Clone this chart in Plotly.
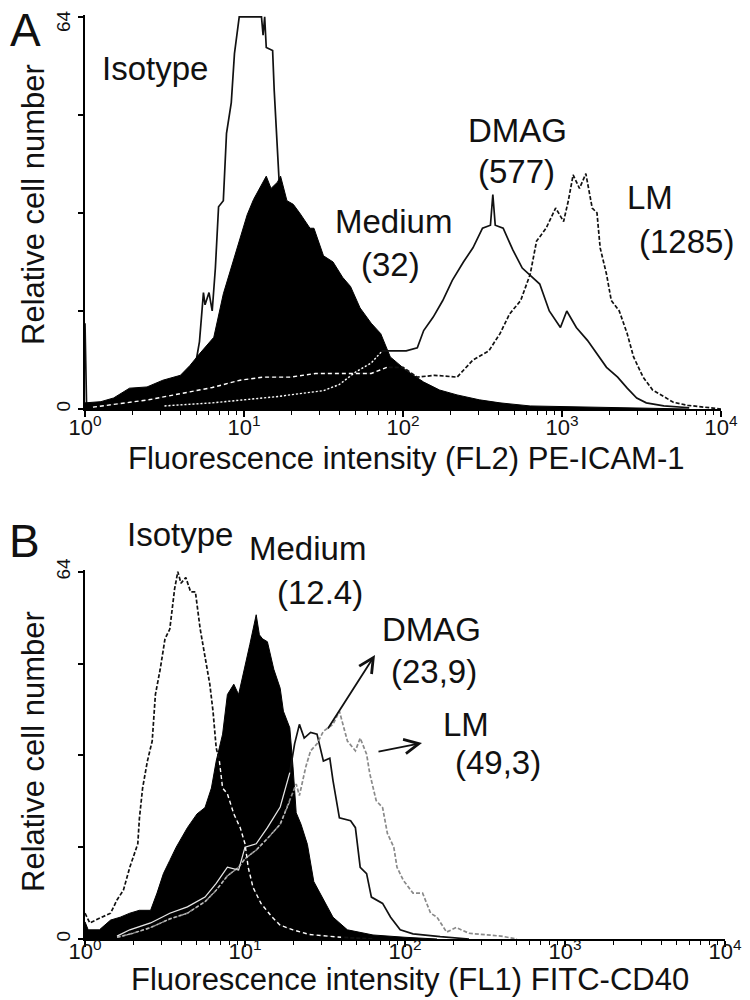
import numpy as np
import plotly.graph_objects as go

# ---------------- Panel A : PE-ICAM-1 (FL2) ----------------
# positions are log10(fluorescence intensity); values are relative cell number
A_ISO_LOGX = [0.00, 0.01, 0.05, 0.20, 0.40, 0.55, 0.62, 0.66, 0.70, 0.72, 0.745, 0.755, 0.78, 0.80,
              0.82, 0.84, 0.87, 0.89, 0.92, 0.94, 0.97, 1.05, 1.11, 1.12, 1.13, 1.14, 1.18, 1.19,
              1.21, 1.22, 1.26, 1.30, 1.40, 1.50, 1.60, 1.80, 2.00]
A_ISO_Y = [14, 0.5, 0.3, 0.3, 0.5, 1, 2, 4, 8, 11, 19, 17, 19, 16,
           23, 33, 34, 45, 50, 58, 64, 64, 64, 61, 64, 59, 58.5, 52,
           42, 37.6, 30, 24, 13, 7, 3, 1, 0]

A_MED_LOGX = [0.00, 0.10, 0.18, 0.28, 0.39, 0.49, 0.60, 0.66, 0.72, 0.81, 0.87, 0.93, 0.975, 1.02,
              1.06, 1.12, 1.14, 1.17, 1.21, 1.23, 1.27, 1.31, 1.35, 1.415, 1.44, 1.50, 1.56, 1.62,
              1.67, 1.73, 1.77, 1.80, 1.86, 1.92, 2.02, 2.13, 2.23, 2.34, 2.48, 2.61, 2.80, 3.20,
              3.60, 3.80]
A_MED_Y = [1.0, 1.2, 1.8, 3.4, 3.6, 4.7, 5.5, 7.1, 9, 11.7, 18.8, 24, 28, 31.7,
           34.2, 37, 38, 36, 37, 38, 34, 33.4, 32, 29.5, 29.5, 25, 24, 21.5,
           20, 16.5, 15, 14, 12.3, 8.5, 6.3, 4.4, 3.1, 2.3, 1.5, 1.0, 0.5, 0.3,
           0.2, 0]

A_DMAG_LOGX = [0.50, 0.80, 1.20, 1.50, 1.60, 1.70, 1.80, 1.87, 2.02, 2.09, 2.13, 2.19, 2.25, 2.31,
               2.38, 2.44, 2.50, 2.55, 2.565, 2.58, 2.63, 2.69, 2.75, 2.82, 2.86, 2.92, 2.99, 3.03,
               3.09, 3.16, 3.22, 3.28, 3.35, 3.41, 3.47, 3.53, 3.64, 3.80]
A_DMAG_Y = [0.5, 1, 2, 3, 4, 6, 7.5, 9.5, 9.5, 10, 12.8, 15, 17.7, 21,
            24, 26.3, 29.5, 30, 35, 30, 29.5, 26, 23, 21.4, 20.4, 16, 13.3, 16,
            13.3, 11.2, 9, 6.8, 5.2, 3.4, 1.8, 1, 0.5, 0.2]

A_LM_LOGX = [0.05, 0.40, 0.60, 0.80, 0.975, 1.12, 1.29, 1.45, 1.60, 1.80, 1.90, 2.00, 2.09, 2.20,
             2.34, 2.44, 2.54, 2.61, 2.67, 2.74, 2.80, 2.84, 2.90, 2.96, 3.01, 3.04, 3.07, 3.11,
             3.15, 3.19, 3.22, 3.24, 3.28, 3.31, 3.36, 3.41, 3.45, 3.51, 3.57, 3.64, 3.70, 3.79,
             3.90, 4.00]
A_LM_Y = [0.3, 1.5, 2.5, 3.5, 4.7, 5.2, 5.2, 5.8, 5.8, 5.8, 6.8, 6.8, 5.2, 5.5,
          5.2, 8, 9.5, 12.3, 15.5, 17.7, 22, 27.4, 29.5, 32.8, 30.6, 34, 38.2, 36,
          38.4, 32.8, 32, 26.3, 22, 17.7, 16, 12.3, 8.5, 5.2, 3.1, 2, 1.1, 0.6,
          0.3, 0]

# ---------------- Panel B : FITC-CD40 (FL1) ----------------
B_ISO_LOGX = [0.00, 0.03, 0.09, 0.16, 0.20, 0.24, 0.28, 0.33, 0.34, 0.36, 0.39, 0.42, 0.44, 0.47,
              0.50, 0.53, 0.56, 0.58, 0.60, 0.63, 0.66, 0.69, 0.72, 0.75, 0.78, 0.80, 0.82, 0.84,
              0.86, 0.89, 0.93, 0.97, 1.00, 1.02, 1.05, 1.10, 1.17, 1.22, 1.30, 1.40, 1.60, 1.80]
B_ISO_Y = [4.5, 2.8, 3.6, 4.5, 6.8, 8.5, 12.5, 16.6, 21, 26.3, 31, 34.5, 42.6, 47,
           52.3, 54, 61, 64, 62, 63, 60.5, 60.5, 54, 49.5, 44.4, 39.7, 33.3, 31,
           26.3, 25.3, 21.8, 19.4, 16.6, 12.5, 9, 6.2, 3.8, 2.4, 1.6, 0.8, 0.3, 0]

B_MED_LOGX = [0.00, 0.02, 0.09, 0.16, 0.22, 0.28, 0.34, 0.41, 0.45, 0.49, 0.53, 0.57, 0.64, 0.70,
              0.75, 0.79, 0.82, 0.86, 0.89, 0.93, 0.96, 0.99, 1.03, 1.07, 1.09, 1.11, 1.14, 1.18,
              1.22, 1.24, 1.28, 1.30, 1.32, 1.35, 1.39, 1.43, 1.49, 1.55, 1.64, 1.80, 2.00, 2.20]
B_MED_Y = [3, 1.6, 1.6, 3.3, 3.8, 4.5, 5, 5, 8, 11.4, 13.7, 16, 19.4, 21.8,
           22.9, 26.3, 31, 35.7, 42.6, 44.4, 42.6, 46.6, 51.3, 56.5, 53, 52.3, 51.8, 47,
           43.7, 39.7, 36.8, 30, 22, 20, 16.5, 10, 6.8, 3.8, 1.6, 0.7, 0.3, 0]

B_DMAG_LOGX = [0.20, 0.28, 0.41, 0.53, 0.64, 0.75, 0.82, 0.89, 0.96, 1.00, 1.07, 1.14, 1.22, 1.28,
               1.31, 1.34, 1.37, 1.41, 1.45, 1.49, 1.53, 1.55, 1.59, 1.66, 1.69, 1.72, 1.76, 1.79,
               1.86, 1.91, 1.97, 2.05, 2.22, 2.40]
B_DMAG_Y = [0.5, 1.6, 2.8, 4.5, 5.6, 7.3, 9.7, 12.5, 12, 16, 16.6, 19.4, 23, 29,
            34, 37.4, 35, 36, 35.7, 31, 31.5, 27.6, 21.1, 20.6, 19.4, 12.5, 11.4, 7.3,
            6.2, 3.8, 1.6, 0.9, 0.4, 0]

B_LM_LOGX = [0.20, 0.30, 0.41, 0.53, 0.64, 0.75, 0.82, 0.89, 0.96, 1.00, 1.07, 1.14, 1.22, 1.28,
             1.32, 1.34, 1.38, 1.41, 1.45, 1.49, 1.55, 1.59, 1.64, 1.69, 1.72, 1.76, 1.78, 1.82,
             1.86, 1.89, 1.93, 1.95, 1.99, 2.05, 2.11, 2.16, 2.20, 2.26, 2.32, 2.40, 2.50, 2.60, 2.70]
B_LM_Y = [0.3, 1, 2, 3.5, 4.5, 6.5, 8.5, 11, 12.5, 14, 15.5, 17.5, 20, 24,
          27, 25, 30, 32.8, 34, 36.2, 37.4, 39.7, 34.5, 32.8, 35, 32.2, 28.8, 24.1,
          22.9, 18.4, 16, 12.5, 10.2, 8, 8, 4.5, 3.8, 1.2, 2, 1, 0.8, 0.5, 0]

TICK_VALS = [1, 10, 100, 1000, 10000]
TICK_TEXT = ["10<sup>0</sup>", "10<sup>1</sup>", "10<sup>2</sup>", "10<sup>3</sup>", "10<sup>4</sup>"]
MINOR_VALS = [m * d for d in (1, 10, 100, 1000) for m in range(2, 10)]
Y_TICKS = [0, 16, 32, 48, 64]
Y_TEXT_A = ["0", " ", " ", " ", " "]      # the top "64" of panel A is placed as a label below
Y_TEXT_B = ["0", " ", " ", " ", "64"]

FONT = "Liberation Sans, Arial, sans-serif"
INK = "#111111"


def lin(logx):
    return [10 ** v for v in logx]


def inside(logx, y, fill_logx, fill_y, margin=0.8):
    f = np.interp(logx, fill_logx, fill_y)
    return [v if v < fv - margin else None for v, fv in zip(y, f)]


fig = go.Figure()


def line(logx, y, color, dash, width, xa, ya, fill=None, fillcolor=None):
    fig.add_trace(go.Scatter(
        x=lin(logx), y=y, mode="lines", xaxis=xa, yaxis=ya,
        line=dict(color=color, dash=dash, width=width),
        fill=fill, fillcolor=fillcolor, hoverinfo="skip", showlegend=False,
        connectgaps=False))


# Panel A
line(A_ISO_LOGX, A_ISO_Y, INK, "solid", 1.7, "x", "y")
line(A_MED_LOGX, A_MED_Y, "black", "solid", 1, "x", "y", fill="tozeroy", fillcolor="black")
line(A_DMAG_LOGX, A_DMAG_Y, INK, "solid", 1.7, "x", "y")
line(A_LM_LOGX, A_LM_Y, INK, "4px,2px", 1.7, "x", "y")
line(A_DMAG_LOGX, inside(A_DMAG_LOGX, A_DMAG_Y, A_MED_LOGX, A_MED_Y), "white", "2px,2px", 1.4, "x", "y")
line(A_LM_LOGX, inside(A_LM_LOGX, A_LM_Y, A_MED_LOGX, A_MED_Y), "white", "4px,3px", 1.4, "x", "y")

# Panel B
line(B_MED_LOGX, B_MED_Y, "black", "solid", 1, "x2", "y2", fill="tozeroy", fillcolor="black")
line(B_ISO_LOGX, B_ISO_Y, INK, "4px,2px", 1.7, "x2", "y2")
line(B_DMAG_LOGX, B_DMAG_Y, INK, "solid", 1.7, "x2", "y2")
line(B_LM_LOGX, B_LM_Y, "#8a8a8a", "4px,2px", 1.7, "x2", "y2")
line(B_ISO_LOGX, inside(B_ISO_LOGX, B_ISO_Y, B_MED_LOGX, B_MED_Y), "white", "4px,3px", 1.4, "x2", "y2")
line(B_DMAG_LOGX, inside(B_DMAG_LOGX, B_DMAG_Y, B_MED_LOGX, B_MED_Y), "#e8e8e8", "solid", 1.2, "x2", "y2")
line(B_LM_LOGX, inside(B_LM_LOGX, B_LM_Y, B_MED_LOGX, B_MED_Y), "#bdbdbd", "3px,2px", 1.2, "x2", "y2")

# the page body adds an 8 px margin, so the figure is drawn 8 px in from the window corner
OFF = 8
W, H = 750 - OFF, 1000 - OFF


def px(xp):
    return (xp - OFF) / W


def py(yp):
    return 1 - (yp - OFF) / H


def xaxis(domain, anchor, standoff):
    return dict(
        type="log", range=[0, 4], domain=domain, anchor=anchor, automargin=False,
        showline=True, linecolor="black", linewidth=2, mirror=False,
        showgrid=False, zeroline=False,
        ticks="outside", ticklen=6, tickwidth=1.5, tickcolor="black",
        tickmode="array", tickvals=TICK_VALS, ticktext=TICK_TEXT,
        tickfont=dict(family=FONT, size=22, color=INK), ticklabelstandoff=standoff,
        ticklabeloverflow="allow",
        minor=dict(tickmode="array", tickvals=MINOR_VALS, ticks="outside",
                   ticklen=4, tickwidth=1, tickcolor="black", showgrid=False),
    )


def yaxis(domain, anchor, ticktext):
    return dict(
        range=[0, 64.3], domain=domain, anchor=anchor, automargin=False,
        showline=True, linecolor="black", linewidth=2,
        showgrid=False, zeroline=False,
        ticks="outside", ticklen=5, tickwidth=1.5, tickcolor="black",
        tickmode="array", tickvals=Y_TICKS, ticktext=ticktext, tickangle=-90,
        tickfont=dict(family=FONT, size=19, color=INK), ticklabeloverflow="allow",
    )


fig.update_layout(
    width=W, height=H, margin=dict(l=0, r=0, t=0, b=0, autoexpand=False),
    paper_bgcolor="white", plot_bgcolor="white",
    xaxis=xaxis([px(85), px(721)], "y", -8),
    yaxis=yaxis([py(409), py(15)], "x", Y_TEXT_A),
    xaxis2=xaxis([px(85), px(725)], "y2", -14),
    yaxis2=yaxis([py(939), py(570)], "x2", Y_TEXT_B),
    showlegend=False,
)

LABELS = [
    ("A", 25, 30, 46, 0), ("B", 24, 541, 46, 0),
    ("64", 64, 21, 19, -90),
    ("Isotype", 155, 68, 33, 0), ("Medium", 393, 222, 33, 0), ("(32)", 391, 264, 33, 0),
    ("DMAG", 517, 130, 33, 0), ("(577)", 516, 172, 33, 0), ("LM", 650, 197, 33, 0), ("(1285)", 686, 241, 33, 0),
    ("Isotype", 180, 534, 33, 0), ("Medium", 307, 548, 33, 0), ("(12.4)", 320, 592, 33, 0),
    ("DMAG", 431, 629, 33, 0), ("(23,9)", 434, 671, 33, 0), ("LM", 466, 724, 33, 0), ("(49,3)", 498, 762, 33, 0),
    ("Relative cell number", 33, 205, 31, -90), ("Relative cell number", 33, 752, 31, -90),
    ("Fluorescence intensity (FL2) PE-ICAM-1", 406, 459, 31, 0),
    ("Fluorescence intensity (FL1) FITC-CD40", 410, 979, 31, 0),
]
for text, xp, yp, size, ang in LABELS:
    fig.add_annotation(x=px(xp), y=py(yp), xref="paper", yref="paper", text=text, showarrow=False,
                       xanchor="center", yanchor="middle", textangle=ang,
                       font=dict(family=FONT, size=size, color=INK))

# arrows in panel B (head position, tail offset in pixels)
for hx, hy, tx, ty in [(375, 655, 327, 730), (422, 743, 377, 752)]:
    fig.add_annotation(x=px(hx), y=py(hy), xref="paper", yref="paper", text="",
                       showarrow=True, arrowhead=5, arrowsize=1.6, arrowwidth=1.8, arrowcolor=INK,
                       ax=tx - hx, ay=ty - hy, standoff=0)

fig.write_html("out.html")
